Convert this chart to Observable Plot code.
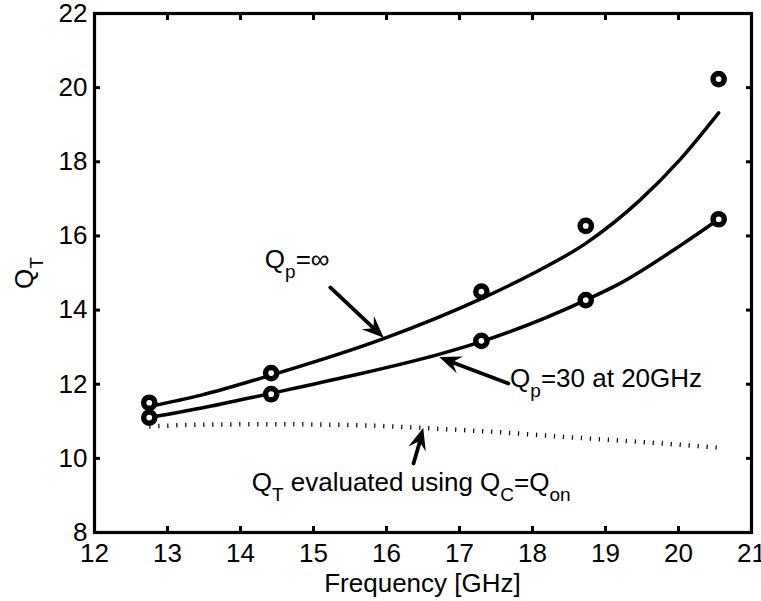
<!DOCTYPE html>
<html><head><meta charset="utf-8">
<script src="https://cdn.jsdelivr.net/npm/d3@7"></script>
<script src="https://cdn.jsdelivr.net/npm/@observablehq/plot@0.6"></script>
<style>body{margin:0;background:#fff}svg{font-family:"Liberation Sans",Arial,sans-serif}</style>
</head><body><div id="chart"></div>
<script>
// measured points (circles)
const measFreq = [12.75, 14.42, 17.3, 18.73, 20.55];
const measQpInf = [11.5, 12.3, 14.5, 16.27, 20.23];
const measQp30 = [11.1, 11.73, 13.17, 14.27, 16.45];
// model curve Qp = infinity
const infFreq = [12.75, 13.45, 14.41, 15.96, 17.3, 18.0, 18.73, 19.48, 20.03, 20.55];
const infQ    = [11.4, 11.7, 12.24, 13.23, 14.31, 14.98, 15.8, 16.98, 18.08, 19.32];
// model curve Qp = 30 at 20GHz
const q30Freq = [12.75, 13.45, 14.41, 15.5, 16.74, 17.3, 18.73, 19.2, 20.07, 20.55];
const q30Q    = [11.1, 11.35, 11.75, 12.22, 12.82, 13.15, 14.27, 14.72, 15.8, 16.45];
// QT evaluated using QC = Qon (dotted)
const onFreq = [12.75, 13.5, 14.5, 15.5, 16.5, 17.5, 18.5, 19.5, 20.55];
const onQ    = [10.86, 10.91, 10.92, 10.9, 10.82, 10.71, 10.57, 10.44, 10.29];
// ticks
const xTicks = [12, 13, 14, 15, 16, 17, 18, 19, 20, 21];
const yTicks = [8, 10, 12, 14, 16, 18, 20, 22];
// annotations (data coordinates)
const arrowTail = [[15.23, 14.61], [17.67, 12.02], [16.37, 9.86]];
const arrowTip  = [[15.97, 13.24], [16.73, 12.72], [16.51, 10.81]];
const labelPos  = [[14.34, 15.12], [17.70, 11.91], [14.16, 9.11]];
const labelParts = [
  [["Q", 0], ["p", 1], ["=\u221E", 0]],
  [["Q", 0], ["p", 1], ["=30 at 20GHz", 0]],
  [["Q", 0], ["T", 1], [" evaluated using Q", 0], ["C", 1], ["=Q", 0], ["on", 1]]
];

const FONT = "'Liberation Sans', Arial, sans-serif";
const toRows = (xs, ys) => xs.map((x, i) => ({x, y: ys[i]}));
const curveInf = toRows(infFreq, infQ);
const curve30 = toRows(q30Freq, q30Q);
const curveOn = toRows(onFreq, onQ);
const dots = [...toRows(measFreq, measQpInf), ...toRows(measFreq, measQp30)];
const arrows = arrowTail.map((t, i) => ({x1: t[0], y1: t[1], x2: arrowTip[i][0], y2: arrowTip[i][1]}));

const plot = Plot.plot({
  width: 761, height: 601,
  marginLeft: 94, marginRight: 10, marginTop: 13, marginBottom: 69,
  x: {domain: [12, 21]},
  y: {domain: [8, 22]},
  style: {fontFamily: FONT, fontSize: "26px", color: "#000", background: "#fff", overflow: "visible"},
  marks: [
    Plot.line(curveOn, {x: "x", y: "y", curve: "monotone-x", stroke: "#000", strokeWidth: 4.5, strokeDasharray: "1.2 7.8", strokeLinecap: "butt"}),
    Plot.line(curveInf, {x: "x", y: "y", curve: "monotone-x", stroke: "#000", strokeWidth: 3.5}),
    Plot.line(curve30, {x: "x", y: "y", curve: "monotone-x", stroke: "#000", strokeWidth: 3.5}),
    Plot.dot(dots, {x: "x", y: "y", r: 5.6, stroke: "#000", strokeWidth: 5.5, fill: "#fff"}),
    Plot.arrow(arrows, {x1: "x1", y1: "y1", x2: "x2", y2: "y2", stroke: "#000", strokeWidth: 3.8, headLength: 0, insetEnd: 9}),
    Plot.axisX({ticks: xTicks, anchor: "bottom", tickSize: -6, text: null, label: null, strokeWidth: 3}),
    Plot.axisX({ticks: xTicks, anchor: "top", tickSize: -6, text: null, label: null, strokeWidth: 3}),
    Plot.axisY({ticks: yTicks, anchor: "left", tickSize: -6, text: null, label: null, strokeWidth: 3}),
    Plot.axisY({ticks: yTicks, anchor: "right", tickSize: -6, text: null, label: null, strokeWidth: 3}),
    Plot.axisX({ticks: xTicks, anchor: "bottom", tickSize: 0, tickPadding: 11, label: null, fontSize: 26}),
    Plot.axisY({ticks: yTicks, anchor: "left", tickSize: 0, tickPadding: 7, label: null, fontSize: 26}),
    Plot.frame({stroke: "#000", strokeWidth: 3.2})
  ]
});

const svg = d3.select(plot);
const sx = plot.scale("x"), sy = plot.scale("y");
// filled arrow heads at the arrow tips
arrows.forEach(a => {
  const x1 = sx.apply(a.x1), y1 = sy.apply(a.y1), x2 = sx.apply(a.x2), y2 = sy.apply(a.y2);
  const ang = Math.atan2(y2 - y1, x2 - x1);
  const ux = Math.cos(ang), uy = Math.sin(ang), vx = -uy, vy = ux;
  const L = 22, W = 9, N = 14;
  const bx = x2 - ux * L, by = y2 - uy * L;
  const pts = [[x2, y2], [bx + vx * W, by + vy * W], [x2 - ux * N, y2 - uy * N], [bx - vx * W, by - vy * W]];
  svg.append("polygon").attr("points", pts.map(p => p.join(",")).join(" ")).attr("fill", "#000");
});
function richText(px, py, parts, opts = {}) {
  const t = svg.append("text").attr("x", px).attr("y", py)
    .attr("font-size", 26).attr("fill", "#000").attr("text-anchor", "start")
    .attr("font-family", FONT);
  if (opts.transform) t.attr("transform", opts.transform);
  let sub = 0;
  parts.forEach(([s, isSub]) => {
    const span = t.append("tspan").text(s).attr("font-size", isSub ? 19 : 26);
    const dy = (isSub ? 10 : 0) - (sub ? 10 : 0);
    if (dy) span.attr("dy", dy);
    sub = isSub;
  });
  return t;
}
labelPos.forEach((p, i) => richText(sx.apply(p[0]), sy.apply(p[1]), labelParts[i]));
// axis labels
svg.append("text").attr("x", (sx.apply(12) + sx.apply(21)) / 2).attr("y", 592)
  .attr("text-anchor", "middle").attr("font-size", 26).attr("fill", "#000")
  .attr("font-family", FONT).text("Frequency [GHz]");
richText(0, 0, [["Q", 0], ["T", 1]], {transform: "translate(33,289) rotate(-90)"});

document.getElementById("chart").appendChild(plot);
</script></body></html>
